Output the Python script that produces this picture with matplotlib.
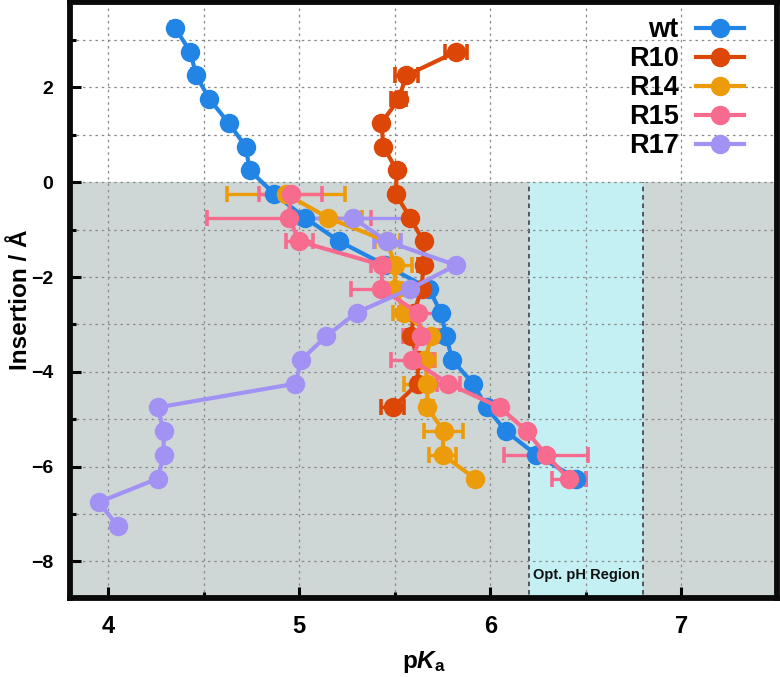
import matplotlib
matplotlib.use("Agg")
import matplotlib.pyplot as plt
from matplotlib.lines import Line2D
from matplotlib.ticker import MultipleLocator

plt.rcParams['font.family'] = ['Liberation Sans', 'DejaVu Sans']
plt.rcParams['font.weight'] = 'bold'
plt.rcParams['mathtext.fontset'] = 'custom'
plt.rcParams['mathtext.rm'] = 'Liberation Sans:bold'
plt.rcParams['mathtext.it'] = 'Liberation Sans:italic:bold'
plt.rcParams['mathtext.bf'] = 'Liberation Sans:bold'

# ---- data ----
labels = ["wt", "R10", "R14", "R15", "R17"]
colors = ["#2285E6", "#DC4606", "#EC9C0B", "#F76B8E", "#A292F4"]

wt_y = [3.25, 2.75, 2.25, 1.75, 1.25, 0.75, 0.25, -0.25, -0.75, -1.25, -1.75,
        -2.25, -2.75, -3.25, -3.75, -4.25, -4.75, -5.25, -5.75, -6.25]
wt_x = [4.35, 4.43, 4.46, 4.53, 4.63, 4.72, 4.74, 4.87, 5.03, 5.21, 5.45,
        5.68, 5.74, 5.77, 5.80, 5.91, 5.98, 6.08, 6.24, 6.45]
wt_err = [0.02, 0.02, 0.02, 0.02, 0.02, 0.02, 0.02, 0.02, 0.02, 0.02, 0.02,
          0.02, 0.02, 0.02, 0.02, 0.02, 0.02, 0.02, 0.02, 0.05]

r10_y = [2.75, 2.25, 1.75, 1.25, 0.75, 0.25, -0.25, -0.75, -1.25, -1.75, -2.25,
         -2.75, -3.25, -3.75, -4.25, -4.75]
r10_x = [5.82, 5.56, 5.52, 5.43, 5.44, 5.51, 5.505, 5.58, 5.65, 5.65, 5.64,
         5.60, 5.585, 5.62, 5.62, 5.49]
r10_err = [0.06, 0.06, 0.04, 0.02, 0.02, 0.02, 0.02, 0.02, 0.02, 0.03, 0.02,
           0.02, 0.02, 0.02, 0.02, 0.06]

r14_y = [-0.25, -0.75, -1.25, -1.75, -2.25, -2.75, -3.25, -3.75, -4.25, -4.75,
         -5.25, -5.75, -6.25]
r14_x = [4.93, 5.15, 5.46, 5.50, 5.50, 5.55, 5.69, 5.66, 5.67, 5.67,
         5.755, 5.75, 5.92]
r14_err = [0.31, 0.18, 0.065, 0.09, 0.04, 0.06, 0.05, 0.05, 0.12, 0.03,
           0.10, 0.07, 0.0]

r15_y = [-0.25, -0.75, -1.25, -1.75, -2.25, -2.75, -3.25, -3.75, -4.25, -4.75,
         -5.25, -5.75, -6.25]
r15_x = [4.955, 4.945, 5.00, 5.435, 5.43, 5.62, 5.635, 5.59, 5.78, 6.05,
         6.19, 6.29, 6.41]
r15_err = [0.165, 0.43, 0.07, 0.06, 0.16, 0.10, 0.09, 0.11, 0.06, 0.02,
           0.02, 0.22, 0.09]

r17_y = [-0.75, -1.25, -1.75, -2.25, -2.75, -3.25, -3.75, -4.25, -4.75, -5.25,
         -5.75, -6.25, -6.75, -7.25]
r17_x = [5.28, 5.46, 5.82, 5.58, 5.30, 5.14, 5.01, 4.98, 4.26, 4.29,
         4.29, 4.26, 3.95, 4.05]
r17_err = [0.28, 0.07, 0.0, 0.0, 0.0, 0.0, 0.0, 0.0, 0.0, 0.0,
           0.0, 0.0, 0.0, 0.0]

series = [(wt_x, wt_y, wt_err), (r10_x, r10_y, r10_err), (r14_x, r14_y, r14_err),
          (r15_x, r15_y, r15_err), (r17_x, r17_y, r17_err)]

opt_lo, opt_hi = 6.2, 6.8
xlim = (3.8, 7.5)
ylim = (-8.77, 3.8)

# ---- figure ----
fig = plt.figure(figsize=(7.8, 6.77), dpi=100)
ax = fig.add_axes([70 / 780, 1 - 598 / 677, 707 / 780, 596 / 677])

ax.axhspan(ylim[0] - 1, 0, color="#CFD7D6", zorder=0.1, lw=0)
ax.fill_betweenx([ylim[0] - 1, 0], opt_lo, opt_hi, color="#C4F0F4", zorder=0.2, lw=0)
for xv in (opt_lo, opt_hi):
    ax.plot([xv, xv], [ylim[0] - 1, 0], color="#333333", lw=1.1,
            ls=(0, (3, 2.5)), zorder=0.3)

ax.grid(True, which="both", color="#8a8a8a", lw=0.9, ls=(0, (2, 3)))
ax.set_axisbelow(True)

MS = 13
for (x, y, e), c, lab in zip(series, colors, labels):
    ax.errorbar(x, y, xerr=e, color=c, lw=3, marker="o", ms=MS,
                mec=c, mfc=c, elinewidth=2.4, capsize=6, capthick=2.6,
                label=lab)

ax.text((opt_lo + opt_hi) / 2, -8.28, "Opt. pH Region", ha="center", va="center",
        fontsize=10.5, fontweight="bold", color="#111111")

ax.set_xlim(*xlim)
ax.set_ylim(*ylim)
ax.xaxis.set_major_locator(MultipleLocator(1))
ax.xaxis.set_minor_locator(MultipleLocator(0.5))
ax.yaxis.set_major_locator(MultipleLocator(2))
ax.yaxis.set_minor_locator(MultipleLocator(1))
ax.tick_params(which="major", direction="in", length=8, width=2.2,
               top=False, right=False)
ax.tick_params(which="minor", direction="in", length=4, width=2.2,
               top=False, right=False)
ax.tick_params(axis="x", which="major", labelsize=17, pad=12)
ax.tick_params(axis="y", which="major", labelsize=14, pad=12)
for t in ax.get_xticklabels() + ax.get_yticklabels():
    t.set_fontweight("bold")
ax.yaxis.set_major_formatter(matplotlib.ticker.FuncFormatter(
    lambda v, p: ("\u2212%d" % abs(v)) if v < 0 else "%d" % v))

for s in ax.spines.values():
    s.set_linewidth(4.2)
    s.set_color("#0a0a0a")

ax.set_xlabel(r"p$\mathit{K}_{\mathrm{a}}$", fontsize=17.5, fontweight="bold", labelpad=8)
ax.set_ylabel("Insertion / Å", fontsize=17.5, fontweight="bold")
ax.yaxis.set_label_coords(-0.054, 0.5)

handles = [Line2D([0], [0], color=c, lw=3, marker="o", ms=MS) for c in colors]
leg = ax.legend(handles, labels, loc="upper right", bbox_to_anchor=(0.953, 0.974),
                frameon=False, markerfirst=False, prop={"weight": "bold", "size": 19.5},
                handlelength=1.75, handletextpad=0.65, labelspacing=0.11,
                borderpad=0, borderaxespad=0)
for t in leg.get_texts():
    t.set_ha("right")

fig.savefig("out.png", dpi=100)
